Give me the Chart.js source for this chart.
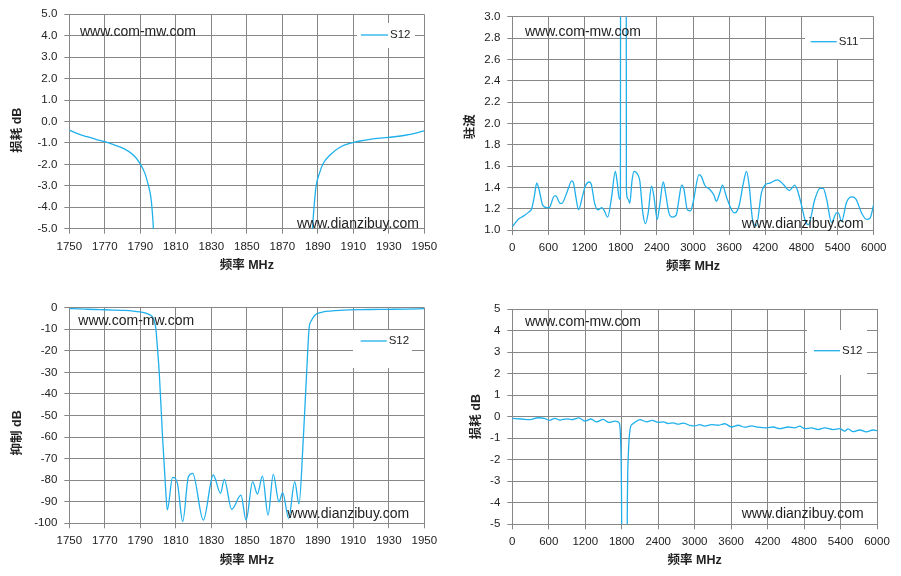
<!DOCTYPE html>
<html>
<head>
<meta charset="utf-8">
<script src="https://cdn.jsdelivr.net/npm/chart.js@4.4.1/dist/chart.umd.min.js"></script>
<style>
  body { margin: 0; background: #fff; width: 901px; height: 576px; position: relative; overflow: hidden; }
  canvas { position: absolute; }
</style>
</head>
<body>
<canvas id="c1" width="450" height="288" style="left:0;top:0"></canvas>
<canvas id="c2" width="451" height="288" style="left:450px;top:0"></canvas>
<canvas id="c3" width="450" height="288" style="left:0;top:288px"></canvas>
<canvas id="c4" width="451" height="288" style="left:450px;top:288px"></canvas>
<script>
// narrow band S12 (used by the insertion loss and the rejection plots)
var freqN = [1750, 1755, 1760, 1765, 1770, 1775, 1780.4, 1786.1, 1789.8, 1792.6,
  1794.5, 1795.9, 1796.6, 1797.3, 1798.0, 1798.8, 1799.6, 1800.7, 1802.6, 1804.3,
  1805.2, 1808.2, 1810.9, 1813.9, 1817.1, 1819.5, 1825.5, 1831.1, 1835.2, 1837.3,
  1841.5, 1846.7, 1849.6, 1853.3, 1856.0, 1858.8, 1862.0, 1864.9, 1868.1, 1870.2,
  1873.6, 1877.0, 1879.4, 1881.8, 1883.7, 1885.2, 1886.4, 1887.1, 1887.9, 1889.0,
  1890.9, 1893.1, 1896.9, 1902.5, 1908.1, 1913.8, 1919.4, 1930, 1940, 1950];
var s12N = [-0.40, -0.58, -0.71, -0.83, -0.94, -1.08, -1.25, -1.56, -1.95, -2.42,
  -2.96, -3.5, -4.05, -4.9, -6.5, -10, -18, -30.4, -61, -84.5,
  -93.8, -78.7, -81.5, -99.2, -78.4, -76.8, -98.5, -77.6, -86.1, -79.6,
  -93.5, -86.9, -98.5, -80.7, -86.4, -78.1, -96.2, -77.3, -90.0, -85.8,
  -97.7, -80.7, -91.0, -61.4, -30.4, -8.8, -6.0, -4.9, -3.97, -3.04,
  -2.42, -1.95, -1.56, -1.20, -1.02, -0.91, -0.83, -0.74, -0.63, -0.44];

// wide band VSWR
var freqV = [0, 100, 183, 278, 322, 367, 405, 444, 500, 572,
  611, 700, 722, 794, 822, 905, 989, 1017, 1061, 1100,
  1167, 1211, 1278, 1311, 1367, 1422, 1489, 1528, 1583, 1644,
  1711, 1739, 1778, 1795, 1805, 1845, 1883, 1894, 1922, 1950,
  1989, 2022, 2083, 2117, 2167, 2211, 2256, 2311, 2350, 2406,
  2444, 2506, 2544, 2600, 2656, 2722, 2767, 2811, 2850, 2906,
  2961, 3002, 3101, 3140, 3196, 3279, 3345, 3389, 3445, 3489,
  3556, 3639, 3694, 3766, 3833, 3888, 3932, 3988, 4050, 4137,
  4193, 4276, 4398, 4497, 4597, 4691, 4747, 4802, 4874, 4915,
  5024, 5107, 5162, 5218, 5301, 5384, 5412, 5467, 5550, 5633,
  5705, 5799, 5882, 5938, 6000];
var vswr = [1.03, 1.10, 1.13, 1.17, 1.20, 1.32, 1.44, 1.38, 1.24, 1.21,
  1.21, 1.32, 1.32, 1.25, 1.25, 1.35, 1.46, 1.44, 1.29, 1.19,
  1.32, 1.41, 1.45, 1.43, 1.25, 1.19, 1.21, 1.18, 1.12, 1.29,
  1.55, 1.46, 1.29, 1.30, 12, 30, 12, 1.38, 1.29, 1.25,
  1.47, 1.55, 1.52, 1.46, 1.16, 1.06, 1.16, 1.41, 1.32, 1.10,
  1.22, 1.45, 1.35, 1.16, 1.12, 1.14, 1.29, 1.42, 1.38, 1.19,
  1.18, 1.26, 1.52, 1.50, 1.42, 1.38, 1.33, 1.27, 1.35, 1.42,
  1.31, 1.19, 1.16, 1.23, 1.43, 1.55, 1.42, 1.10, 1.04, 1.35,
  1.42, 1.44, 1.47, 1.43, 1.37, 1.42, 1.35, 1.23, 1.07, 1.05,
  1.29, 1.39, 1.39, 1.29, 1.07, 1.16, 1.16, 1.08, 1.26, 1.31,
  1.29, 1.16, 1.10, 1.11, 1.24];

// wide band S12
var freqW = [0, 153, 290, 427, 526, 608, 701, 784, 893, 975,
  1096, 1195, 1293, 1386, 1496, 1589, 1688, 1740, 1765, 1782,
  1800, 1810, 1845, 1880, 1890, 1908, 1947, 1975, 2099, 2208,
  2302, 2400, 2482, 2565, 2647, 2729, 2811, 2921, 3003, 3085,
  3167, 3277, 3387, 3496, 3606, 3715, 3825, 3935, 4044, 4181,
  4291, 4400, 4537, 4647, 4729, 4811, 4921, 5031, 5140, 5277,
  5387, 5469, 5524, 5606, 5716, 5825, 5935, 6000];
var s12W = [-0.08, -0.11, -0.14, -0.05, -0.08, -0.17, -0.08, -0.16, -0.10, -0.14,
  -0.06, -0.21, -0.11, -0.24, -0.13, -0.27, -0.21, -0.24, -0.35, -1.1,
  -5.5, -20, -80, -20, -5.5, -1.86, -0.46, -0.35, -0.14, -0.24,
  -0.17, -0.27, -0.24, -0.32, -0.29, -0.35, -0.30, -0.40, -0.43, -0.37,
  -0.44, -0.37, -0.40, -0.33, -0.48, -0.40, -0.49, -0.43, -0.49, -0.52,
  -0.48, -0.56, -0.48, -0.52, -0.44, -0.56, -0.52, -0.60, -0.52, -0.60,
  -0.56, -0.67, -0.57, -0.70, -0.62, -0.71, -0.62, -0.65];

var BLUE = '#1fb0ec';
var GRID = '#878787';
var TEXT = '#222';
var LATIN = '"Liberation Sans", Arial, sans-serif';
var TITLE = '"Liberation Sans", "Noto Sans CJK SC", sans-serif';

function pts(xs, ys) {
  return xs.map(function (x, i) { return { x: x, y: ys[i] }; });
}

// watermark texts and the inner legend box
var decor = {
  id: 'decor',
  afterDatasetsDraw: function (chart, args, o) {
    var ctx = chart.ctx;
    var ds = chart.data.datasets[0];
    ctx.save();
    ctx.fillStyle = TEXT;
    ctx.font = '14px ' + LATIN;
    ctx.textBaseline = 'alphabetic';
    ctx.fillText('www.com-mw.com', o.wm1[0], o.wm1[1]);
    ctx.fillText('www.dianzibuy.com', o.wm2[0], o.wm2[1]);

    var lg = o.legend;
    ctx.fillStyle = '#fff';
    ctx.fillRect(lg.x, lg.y, lg.w, lg.h);
    ctx.strokeStyle = ds.borderColor;
    ctx.lineWidth = ds.borderWidth;
    ctx.beginPath();
    ctx.moveTo(lg.x1, lg.ly);
    ctx.lineTo(lg.x2, lg.ly);
    ctx.stroke();
    ctx.fillStyle = TEXT;
    ctx.font = '11.5px ' + LATIN;
    ctx.textBaseline = 'middle';
    ctx.fillText(ds.label, lg.x2 + 2, lg.ly);
    ctx.restore();
  }
};

function build(id, o) {
  var canvas = document.getElementById(id);
  var W = canvas.width, H = canvas.height, a = o.area;
  return new Chart(canvas, {
    type: 'line',
    data: {
      datasets: [{
        label: o.label,
        data: o.points,
        borderColor: BLUE,
        borderWidth: 1.3,
        pointRadius: 0,
        cubicInterpolationMode: 'monotone',
        fill: false
      }]
    },
    options: {
      responsive: false,
      animation: false,
      events: [],
      layout: { padding: { left: 0, top: a.t, right: W - a.r, bottom: 0 } },
      plugins: {
        legend: { display: false },
        tooltip: { enabled: false },
        decor: { wm1: o.wm1, wm2: o.wm2, legend: o.legend }
      },
      scales: {
        x: {
          type: 'linear',
          min: o.xmin, max: o.xmax,
          afterFit: function (s) { s.height = H - a.b; },
          ticks: {
            stepSize: o.xstep, autoSkip: false, maxRotation: 0, padding: 6,
            color: TEXT, font: { family: LATIN, size: 11.5 },
            callback: function (v) { return String(v); }
          },
          grid: { color: GRID, lineWidth: 1, tickLength: 5, tickColor: GRID },
          border: { color: GRID, width: 1 },
          title: {
            display: true, text: '频率 MHz', color: TEXT,
            font: { family: TITLE, size: 12.5, weight: 'bold' },
            padding: { top: 0, bottom: o.xtPad }
          }
        },
        y: {
          min: o.ymin, max: o.ymax,
          afterFit: function (s) { s.width = a.l; },
          ticks: {
            stepSize: o.ystep, autoSkip: false, padding: 7,
            color: TEXT, font: { family: LATIN, size: 11.5 },
            callback: function (v) { return v.toFixed(o.ydec); }
          },
          grid: { color: GRID, lineWidth: 1, tickLength: 5, tickColor: GRID },
          border: { color: GRID, width: 1 },
          title: {
            display: true, text: o.ytitle, color: TEXT,
            font: { family: TITLE, size: 12.5, weight: 'bold' },
            padding: { top: o.ytPad, bottom: 0 }
          }
        }
      }
    },
    plugins: [decor]
  });
}

build('c1', {
  label: 'S12', points: pts(freqN, s12N),
  area: { l: 69.3, t: 14.3, r: 424.3, b: 228.7 },
  xmin: 1750, xmax: 1950, xstep: 20,
  ymin: -5, ymax: 5, ystep: 1, ydec: 1,
  ytitle: '损耗 dB     ', ytPad: 10, xtPad: 14.5,
  wm1: [80, 35.5], wm2: [297, 227.5],
  legend: { x: 357, y: 23, w: 58, h: 25, x1: 361, x2: 388, ly: 35 }
});

build('c2', {
  label: 'S11', points: pts(freqV, vswr),
  area: { l: 62.3, t: 16.7, r: 423.7, b: 230 },
  xmin: 0, xmax: 6000, xstep: 600,
  ymin: 1, ymax: 3, ystep: 0.2, ydec: 1,
  ytitle: '驻波  ', ytPad: 13, xtPad: 13.5,
  wm1: [75, 35.5], wm2: [291.7, 227.5],
  legend: { x: 355, y: 17, w: 55, h: 42, x1: 360.7, x2: 386.7, ly: 41.7 }
});

build('c3', {
  label: 'S12', points: pts(freqN, s12N),
  area: { l: 69.3, t: 19.7, r: 424.3, b: 235.3 },
  xmin: 1750, xmax: 1950, xstep: 20,
  ymin: -100, ymax: 0, ystep: 10, ydec: 0,
  ytitle: '抑制 dB          ', ytPad: 10, xtPad: 7.5,
  wm1: [78.3, 37], wm2: [287.3, 229.5],
  legend: { x: 353, y: 42, w: 59, h: 38, x1: 360.7, x2: 386.7, ly: 53 }
});

build('c4', {
  label: 'S12', points: pts(freqW, s12W),
  area: { l: 62.3, t: 21, r: 427, b: 236.3 },
  xmin: 0, xmax: 6000, xstep: 600,
  ymin: -5, ymax: 5, ystep: 1, ydec: 0,
  ytitle: '损耗 dB', ytPad: 19, xtPad: 7.5,
  wm1: [75, 37.5], wm2: [291.7, 229.5],
  legend: { x: 357, y: 42, w: 60, h: 45, x1: 364, x2: 390, ly: 62.7 }
});
</script>
</body>
</html>
